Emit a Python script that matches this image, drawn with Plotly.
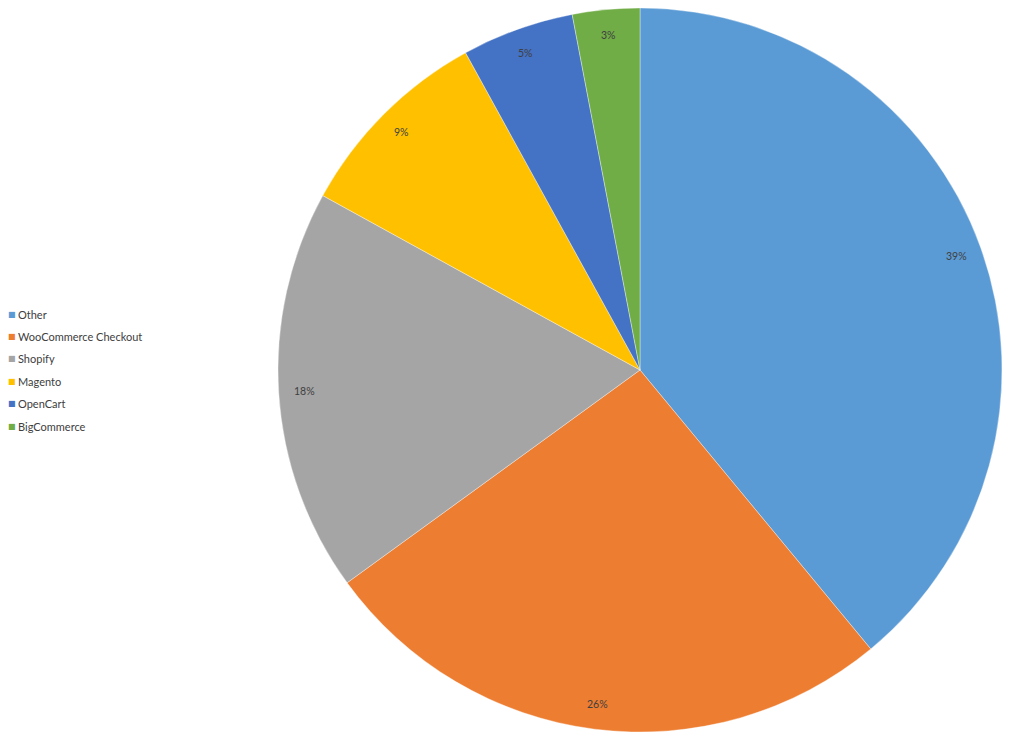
import math
import plotly.graph_objects as go

labels = ["Other", "WooCommerce Checkout", "Shopify", "Magento", "OpenCart", "BigCommerce"]
values = [39, 26, 18, 9, 5, 3]
colors = ["#5B9BD5", "#ED7D31", "#A5A5A5", "#FFC000", "#4472C4", "#70AD47"]

W, H = 1031, 741
cx, cy, r = 632, 362, 362  # pie centre / radius in figure pixels
font_family = "Lato, Liberation Sans, sans-serif"
text_color = "#404040"

fig = go.Figure(go.Pie(
    labels=labels,
    values=values,
    sort=False,
    direction="clockwise",
    rotation=0,
    marker=dict(colors=colors, line=dict(color="rgba(255,255,255,0.6)", width=0.6)),
    textinfo="none",
    domain=dict(x=[(cx - r) / W, (cx + r) / W], y=[1 - (cy + r) / H, 1 - (cy - r) / H]),
    hoverinfo="label+percent",
    showlegend=False,
))

# percentage labels placed near the outer edge along each slice bisector
total = sum(values)
cum = 0
annotations = []
for v in values:
    mid = (cum + v / 2) / total * 2 * math.pi
    cum += v
    px = cx + 0.93 * r * math.sin(mid)
    py = cy - 0.93 * r * math.cos(mid)
    annotations.append(dict(
        x=px / W, y=1 - py / H, xref="paper", yref="paper",
        text=f"{round(v / total * 100)}%", showarrow=False,
        font=dict(family=font_family, size=10.5, color=text_color),
        xanchor="center", yanchor="middle",
    ))

# legend drawn at the left
leg_top, leg_step = 306, 22.4
for i, (lab, col) in enumerate(zip(labels, colors)):
    yy = 1 - (leg_top + i * leg_step) / H
    annotations.append(dict(
        x=-2 / W, y=yy, xref="paper", yref="paper",
        text="■", showarrow=False,
        font=dict(family="DejaVu Sans", size=8, color=col),
        xanchor="left", yanchor="middle",
    ))
    annotations.append(dict(
        x=8 / W, y=yy, xref="paper", yref="paper",
        text=lab, showarrow=False,
        font=dict(family=font_family, size=11, color=text_color),
        xanchor="left", yanchor="middle",
    ))

fig.update_layout(
    width=W, height=H,
    margin=dict(l=0, r=0, t=0, b=0),
    paper_bgcolor="white",
    plot_bgcolor="white",
    annotations=annotations,
)

fig.write_html("out.html")
